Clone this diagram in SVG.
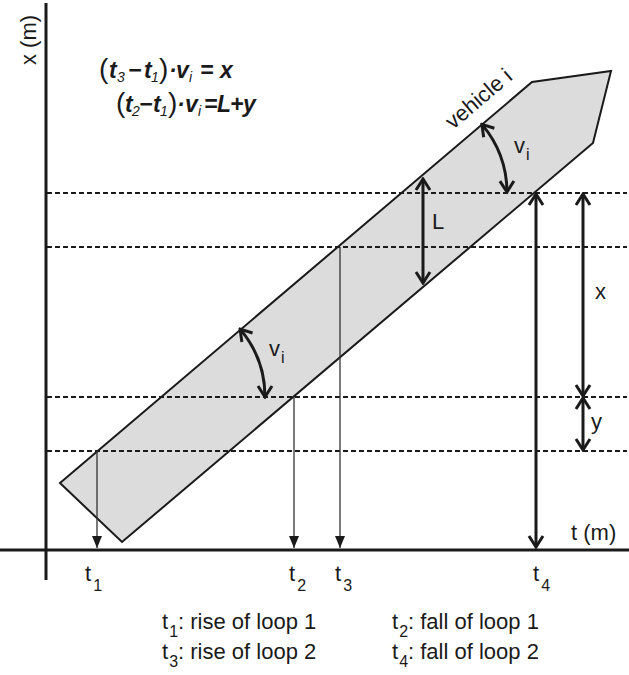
<svg xmlns="http://www.w3.org/2000/svg" width="629" height="675" viewBox="0 0 629 675">
<style>
text{font-family:"Liberation Sans",Arial,sans-serif;fill:#1a1a1a}
.lbl{font-size:22px}
.bot{font-size:22px}
.sub{font-size:16px}
.eq{font-size:23px;font-style:italic;font-weight:bold}
.par{font-size:28px;font-style:normal;font-weight:normal}
.esub{font-size:14px;font-weight:normal}
.axis{stroke:#1a1a1a;stroke-width:3;fill:none}
.dash{stroke:#1a1a1a;stroke-width:2;stroke-dasharray:5,3;fill:none}
.thin{stroke:#333;stroke-width:1.3;fill:none;marker-end:url(#fillHead)}
.dim{stroke:#1a1a1a;stroke-width:3;fill:none;marker-start:url(#openHead);marker-end:url(#openHead)}
</style>
<defs>
<marker id="openHead" viewBox="-13 -9 15 18" refX="0" refY="0" markerWidth="15" markerHeight="18" markerUnits="userSpaceOnUse" orient="auto-start-reverse">
<polyline points="-11,-7 0,0 -11,7" fill="none" stroke="#1a1a1a" stroke-width="3"/>
</marker>
<marker id="fillHead" viewBox="-13 -6 14 12" refX="0" refY="0" markerWidth="14" markerHeight="12" markerUnits="userSpaceOnUse" orient="auto">
<path d="M0,0 L-12,-5 L-12,5 Z" fill="#1a1a1a"/>
</marker>
</defs>

<g id="vehicle">
<polygon points="60,483 532,82 611,71 593,143 122,542" fill="#dcdcdc" stroke="#1a1a1a" stroke-width="2" stroke-linejoin="miter"/>
<text class="lbl" transform="translate(453,130) rotate(-40.3)">vehicle i</text>
</g>

<g id="loops">
<line class="dash" x1="47" y1="193" x2="627" y2="193"/>
<line class="dash" x1="47" y1="247" x2="627" y2="247"/>
<line class="dash" x1="47" y1="397" x2="627" y2="397"/>
<line class="dash" x1="47" y1="451" x2="627" y2="451"/>
</g>

<g id="axes">
<line class="axis" x1="46" y1="3" x2="46" y2="580"/>
<line class="axis" x1="0" y1="550" x2="629" y2="550"/>
<text class="lbl" transform="translate(36,40) rotate(-90)" text-anchor="middle">x (m)</text>
<text class="lbl" x="571" y="540">t (m)</text>
</g>

<g id="connectors">
<line class="thin" x1="97" y1="451" x2="97" y2="548"/>
<line class="thin" x1="294" y1="397" x2="294" y2="548"/>
<line class="thin" x1="340" y1="247" x2="340" y2="548"/>
<line class="dim" x1="536" y1="194" x2="536" y2="547"/>
<line class="dim" x1="583" y1="194" x2="583" y2="396"/>
<line class="dim" x1="583" y1="398" x2="583" y2="450"/>
<line class="dim" x1="423" y1="179" x2="423" y2="283"/>
<path class="dim" d="M240.1,329.1 A105,105 0 0 1 265,397"/>
<path class="dim" d="M481.9,124.4 A106,106 0 0 1 507,192"/>
</g>

<g id="dim-labels">
<text class="lbl" x="432" y="229">L</text>
<text class="lbl" x="595" y="299">x</text>
<text class="lbl" x="591" y="429">y</text>
<text class="lbl" x="269" y="356">v<tspan class="sub" dx="1" dy="7">i</tspan></text>
<text class="lbl" x="514" y="153">v<tspan class="sub" dx="1" dy="7">i</tspan></text>
</g>

<g id="time-labels">
<text class="lbl" x="85" y="581">t<tspan class="sub" dx="2" dy="10">1</tspan></text>
<text class="lbl" x="289" y="581">t<tspan class="sub" dx="2" dy="10">2</tspan></text>
<text class="lbl" x="335" y="581">t<tspan class="sub" dx="2" dy="10">3</tspan></text>
<text class="lbl" x="533" y="581">t<tspan class="sub" dx="2" dy="10">4</tspan></text>
</g>

<g id="equations">
<text class="eq" y="78"><tspan class="par" x="99">(</tspan><tspan x="109">t</tspan><tspan class="esub" x="117" dy="4">3</tspan><tspan x="128" dy="-4">−</tspan><tspan x="144">t</tspan><tspan class="esub" x="151" dy="4">1</tspan><tspan class="par" x="159" dy="-4">)</tspan><tspan x="169">·</tspan><tspan x="176">v</tspan><tspan class="esub" x="189" dy="4">i</tspan><tspan x="200" dy="-4">=</tspan><tspan x="220">x</tspan></text>
<text class="eq" y="112"><tspan class="par" x="116">(</tspan><tspan x="125">t</tspan><tspan class="esub" x="132" dy="4">2</tspan><tspan x="139" dy="-4">−</tspan><tspan x="153">t</tspan><tspan class="esub" x="160" dy="4">1</tspan><tspan class="par" x="168" dy="-4">)</tspan><tspan x="177">·</tspan><tspan x="185">v</tspan><tspan class="esub" x="198" dy="4">i</tspan><tspan x="204" dy="-4">=</tspan><tspan x="217">L</tspan><tspan x="230">+</tspan><tspan x="243">y</tspan></text>
</g>

<g id="legend">
<text class="bot" x="162" y="629">t<tspan class="sub" dx="1" dy="8">1</tspan><tspan dy="-8">: rise of loop 1</tspan></text>
<text class="bot" x="392" y="629">t<tspan class="sub" dx="1" dy="8">2</tspan><tspan dy="-8">: fall of loop 1</tspan></text>
<text class="bot" x="162" y="659">t<tspan class="sub" dx="1" dy="8">3</tspan><tspan dy="-8">: rise of loop 2</tspan></text>
<text class="bot" x="392" y="659">t<tspan class="sub" dx="1" dy="8">4</tspan><tspan dy="-8">: fall of loop 2</tspan></text>
</g>
</svg>
